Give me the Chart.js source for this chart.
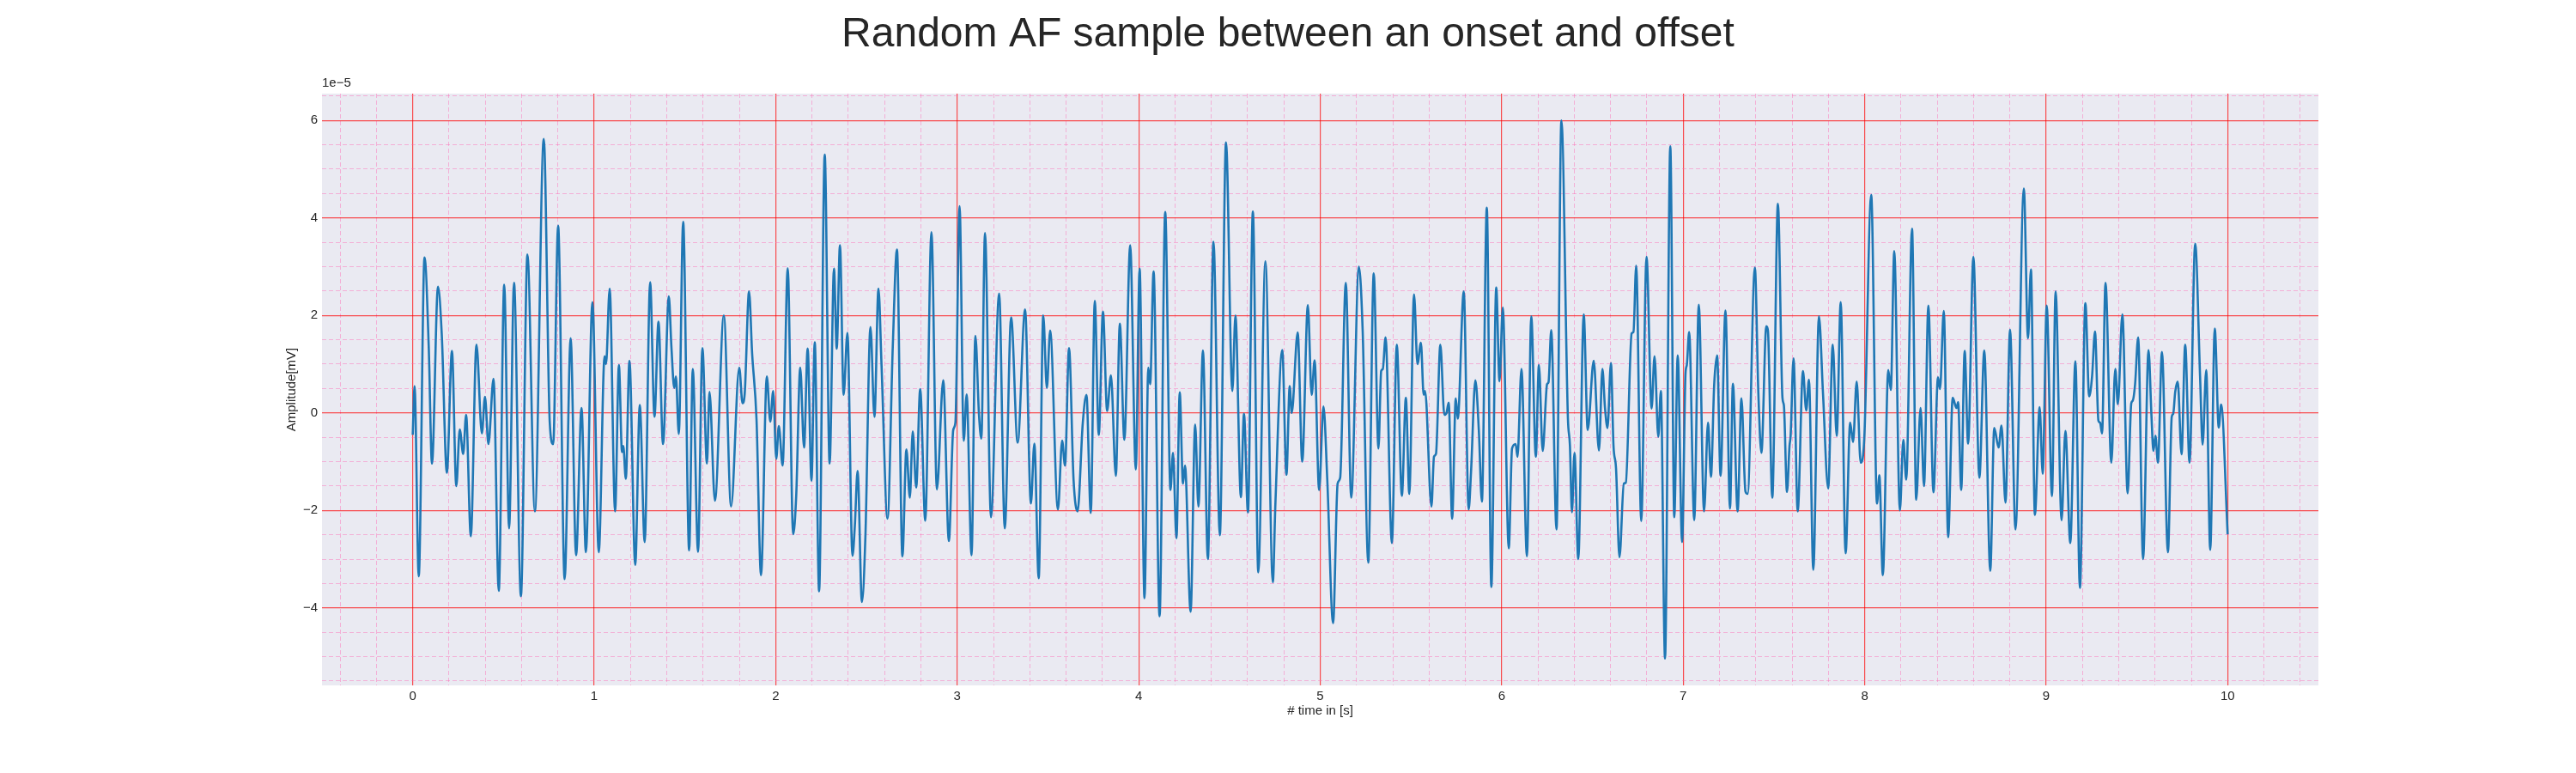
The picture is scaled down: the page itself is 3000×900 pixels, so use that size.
<!DOCTYPE html>
<html>
<head>
<meta charset="utf-8">
<title>Random AF sample between an onset and offset</title>
<script src="https://cdn.jsdelivr.net/npm/chart.js@4.4.1/dist/chart.umd.min.js"></script>
<style>
  html, body { margin: 0; padding: 0; background: #ffffff; }
  #wrap { width: 3000px; height: 900px; }
</style>
</head>
<body>
<div id="wrap"><canvas id="afChart" width="3000" height="900"></canvas></div>
<script>
// --- DATA (amplitude in units of 1e-5 mV) ---
const TITLE = "Random AF sample between an onset and offset";
const X_LABEL = "# time in [s]";
const Y_LABEL = "Amplitude[mV]";
const Y_OFFSET_TEXT = "1e\u22125";

const xTickLabels = [0, 1, 2, 3, 4, 5, 6, 7, 8, 9, 10];
const yTickLabels = [-4, -2, 0, 2, 4, 6];

const timeS = [
  // 0 - 1 s
  0.000,0.010,0.033,0.065,0.088,0.106,0.139,0.160,0.188,0.216,
  0.240,0.259,0.278,0.294,0.320,0.351,0.381,0.398,0.417,0.445,
  0.474,0.504,0.531,0.558,0.596,0.632,0.673,0.722,0.755,0.774,
  0.801,0.837,0.870,0.900,0.930,0.954,0.990,1.025,
  // 1 - 2 s
  1.057,1.065,1.085,1.115,1.136,1.153,1.160,1.174,1.194,1.226,
  1.251,1.278,1.308,1.332,1.354,1.379,1.411,1.425,1.441,1.450,
  1.466,1.490,1.523,1.543,1.572,1.596,1.621,1.635,1.665,1.714,
  1.754,1.799,1.817,1.829,1.853,1.870,1.894,1.919,1.951,1.970,
  1.986,2.003,2.017,2.038,
  // 2 - 3 s
  2.066,2.096,2.113,2.135,2.156,2.176,2.197,2.215,2.239,2.270,
  2.297,2.321,2.336,2.354,2.374,2.395,2.423,2.436,2.451,2.475,
  2.494,2.522,2.544,2.566,2.583,2.616,2.645,2.668,2.698,2.720,
  2.739,2.755,2.774,2.796,2.824,2.858,2.888,2.923,2.954,2.978,
  2.990,3.013,3.036,
  // 3 - 4 s
  3.052,3.079,3.100,3.120,3.133,3.153,3.186,3.231,3.262,3.297,
  3.333,3.374,3.406,3.425,3.449,3.474,3.494,3.512,3.555,3.578,
  3.594,3.616,3.641,3.663,3.692,3.712,3.736,3.758,3.780,3.803,
  3.826,3.847,3.874,3.896,3.921,3.953,3.984,4.005,4.032,
  // 4 - 5 s
  4.053,4.063,4.082,4.115,4.146,4.175,4.189,4.208,4.226,4.244,
  4.255,4.286,4.311,4.329,4.354,4.381,4.412,4.447,4.481,4.516,
  4.533,4.563,4.580,4.602,4.629,4.659,4.698,4.739,4.753,4.791,
  4.814,4.832,4.843,4.876,4.901,4.932,4.953,4.969,4.994,5.018,
  // 5 - 6 s
  5.039,5.071,5.096,5.110,5.141,5.171,5.213,5.234,5.265,5.295,
  5.321,5.336,5.345,5.360,5.395,5.422,5.450,5.472,5.491,5.517,
  5.536,5.555,5.570,5.578,5.613,5.627,5.638,5.662,5.684,5.696,
  5.708,5.727,5.747,5.758,5.791,5.818,5.831,5.855,5.874,5.891,
  5.918,5.943,5.970,5.988,6.006,
  // 6 - 7 s
  6.039,6.057,6.077,6.087,6.109,6.139,6.163,6.188,6.205,6.226,
  6.250,6.258,6.273,6.302,6.329,6.365,6.376,6.387,6.401,6.422,
  6.452,6.474,6.507,6.536,6.555,6.569,6.583,6.602,6.616,6.630,
  6.649,6.673,6.684,6.716,6.726,6.741,6.769,6.798,6.826,6.842,
  6.863,6.877,6.900,6.929,6.951,6.970,6.994,7.013,
  // 7 - 8 s
  7.020,7.033,7.061,7.086,7.115,7.137,7.153,7.171,7.187,7.206,
  7.233,7.258,7.274,7.300,7.321,7.343,7.355,7.395,7.414,7.431,
  7.458,7.467,7.491,7.522,7.547,7.555,7.572,7.586,7.592,7.608,
  7.631,7.660,7.678,7.693,7.717,7.748,7.770,7.799,7.824,7.846,
  7.868,7.895,7.920,7.936,7.956,7.978,7.998,
  // 8 - 9 s
  8.036,8.068,8.081,8.100,8.130,8.144,8.163,8.194,8.213,8.229,
  8.261,8.284,8.308,8.327,8.351,8.379,8.404,8.415,8.436,8.460,
  8.485,8.506,8.515,8.532,8.551,8.570,8.599,8.632,8.659,8.692,
  8.714,8.738,8.754,8.776,8.801,8.831,8.877,8.900,8.916,8.938,
  8.964,8.981,9.003,
  // 9 - 10 s
  9.032,9.052,9.085,9.106,9.133,9.161,9.186,9.216,9.237,9.253,
  9.269,9.288,9.297,9.308,9.327,9.359,9.381,9.395,9.420,9.449,
  9.469,9.477,9.490,9.507,9.534,9.564,9.580,9.591,9.602,9.616,
  9.638,9.671,9.692,9.700,9.711,9.725,9.746,9.766,9.790,9.821,
  9.848,9.862,9.882,9.904,9.929,9.951,9.964,10.000
];

const amplitude = [
  // 0 - 1 s
  -0.45,0.55,-3.35,3.19,1.37,-1.04,2.59,1.60,-1.23,1.27,
  -1.50,-0.34,-0.84,-0.04,-2.53,1.40,-0.42,0.33,-0.64,0.70,
  -3.65,2.63,-2.37,2.67,-3.76,3.25,-2.02,5.62,-0.20,-0.64,
  3.84,-3.41,1.53,-2.92,0.10,-2.86,2.27,-2.86,
  // 1 - 2 s
  1.16,1.00,2.55,-2.02,0.98,-0.80,-0.68,-1.35,1.07,-3.12,
  0.16,-2.65,2.68,-0.08,1.87,-0.64,2.39,1.37,0.51,0.75,
  -0.43,3.92,-2.82,0.90,-2.85,1.33,-1.04,0.43,-1.80,2.00,
  -1.92,0.93,0.20,0.39,2.49,1.22,-0.12,-3.33,0.75,-0.18,
  0.45,-0.94,-0.27,-1.08,
  // 2 - 3 s
  2.97,-2.49,-1.69,0.93,-0.71,1.32,-1.39,1.45,-3.66,5.30,
  -1.04,2.96,1.32,3.44,0.37,1.64,-2.93,-2.31,-1.19,-3.88,
  -2.55,1.76,-0.08,2.55,0.98,-2.17,1.37,3.35,-2.94,-0.75,
  -1.74,-0.38,-1.53,0.49,-2.21,3.71,-1.57,0.67,-2.63,-0.35,
  -0.20,4.24,-0.57,
  // 3 - 4 s
  0.38,-2.92,1.58,-0.04,-0.53,3.69,-2.14,2.45,-2.37,1.96,
  -0.61,2.12,-1.86,-0.63,-3.39,2.00,0.51,1.69,-1.98,-0.57,
  -1.08,1.33,-1.37,-2.02,-0.20,0.37,-2.05,2.30,-0.45,2.08,
  0.04,0.77,-1.29,1.83,-0.55,3.44,-1.16,2.96,-3.80,
  // 4 - 5 s
  0.93,0.59,2.90,-4.17,4.12,-1.58,-0.82,-2.57,0.42,-1.45,
  -1.08,-4.08,-0.24,-1.92,1.28,-3.00,3.51,-2.51,5.55,0.45,
  2.00,-1.73,-0.02,-2.04,4.13,-3.27,3.11,-3.47,-1.88,1.29,
  -1.27,0.55,0.00,1.65,-1.00,2.21,0.37,1.08,-1.58,0.13,
  // 5 - 6 s
  -1.37,-4.31,-1.45,-1.33,2.67,-1.74,3.00,1.69,-3.07,2.86,
  -0.73,0.86,0.90,1.55,-2.67,1.40,-1.70,0.31,-1.66,2.43,
  1.00,1.44,0.37,0.45,-1.92,-0.90,-0.84,1.40,-0.04,0.00,
  0.21,-2.17,0.30,-0.12,2.49,-1.98,-1.22,0.67,-0.35,-1.82,
  4.21,-3.57,2.57,0.65,2.16,
  // 6 - 7 s
  -2.78,-0.73,-0.64,-0.90,0.90,-2.94,1.98,-0.90,0.98,-0.78,
  0.59,0.63,1.70,-2.39,6.00,-0.12,-0.67,-2.04,-0.82,-3.00,
  2.02,-0.35,1.07,-0.77,0.90,0.11,-0.31,1.02,-0.67,-1.14,
  -2.96,-1.45,-1.43,1.63,1.66,3.02,-2.22,3.20,0.09,1.16,
  -0.49,0.45,-5.04,5.47,-2.14,1.18,-2.65,0.82,
  // 7 - 8 s
  0.98,1.66,-2.20,2.22,-2.02,-0.20,-1.31,0.59,1.18,-1.29,
  2.10,-1.96,0.60,-2.02,0.30,-1.61,-1.66,2.98,0.43,-0.82,
  1.78,1.69,-1.74,4.29,0.31,0.15,-1.62,-0.67,-0.47,1.12,
  -2.02,0.86,0.05,0.68,-3.22,1.98,0.43,-1.55,1.40,-0.47,
  2.27,-2.88,-0.20,-0.60,0.64,-1.02,-0.51,
  // 8 - 9 s
  4.47,-1.86,-1.28,-3.33,0.88,0.47,3.32,-2.00,-0.55,-1.37,
  3.78,-1.78,0.10,-1.50,2.20,-1.63,0.73,0.49,2.09,-2.55,
  0.31,0.10,0.22,-1.58,1.27,-0.63,3.20,-1.33,1.28,-3.24,
  -0.31,-0.71,-0.26,-1.84,1.71,-2.39,4.60,1.53,2.94,-2.09,
  0.12,-1.25,2.20,
  // 9 - 10 s
  -1.71,2.49,-2.20,-0.37,-2.67,1.06,-3.59,2.25,0.34,0.75,
  1.67,-0.16,-0.20,-0.42,2.67,-1.02,0.90,0.18,2.02,-1.65,
  0.20,0.25,0.59,1.55,-3.00,1.29,-0.04,-0.78,-0.47,-1.02,
  1.25,-2.86,-0.08,-0.02,0.43,0.64,-0.85,1.40,-1.02,3.47,
  0.75,-0.65,0.88,-2.81,1.73,-0.30,0.17,-2.49
];

// --- AXES LIMITS / GRID STEPS ---
const X_MIN = -0.5, X_MAX = 10.5, X_MINOR = 0.2;
const Y_MIN = -5.59, Y_MAX = 6.55, Y_MINOR = 0.5;

// --- STYLE ---
const FONT = "'Liberation Sans', Arial, 'DejaVu Sans', sans-serif";
const TEXT_COLOR = '#262626';
const PLOT_BG = '#eaeaf2';
const MAJOR_GRID = 'rgba(255, 0, 0, 0.68)';
const MINOR_GRID = 'rgba(255, 105, 180, 0.45)';
const LINE_COLOR = '#1f77b4';

// valeurs des lignes de grille (majeures + mineures) entre deux bornes
function gridValues(min, max, step) {
    const out = [];
    const first = Math.ceil(min / step - 1e-9);
    const last = Math.floor(max / step + 1e-9);
    for (let i = first; i <= last; i++) out.push(Math.round(i * step * 1000) / 1000);
    return out;
}

const isIn = (v, list) => list.some(t => Math.abs(t - v) < 1e-6);
const minus = v => (v < 0 ? '\u2212' + Math.abs(v) : String(v));

const points = timeS.map((t, i) => ({ x: t, y: amplitude[i] }));

// fond gris-lavande de la zone de tracé
const plotBackground = {
    id: 'plotBackground',
    beforeDraw(chart) {
        const { ctx, chartArea: a } = chart;
        ctx.save();
        ctx.fillStyle = '#ffffff';
        ctx.fillRect(0, 0, chart.width, chart.height);
        ctx.fillStyle = PLOT_BG;
        ctx.fillRect(a.left, a.top, a.right - a.left, a.bottom - a.top);
        ctx.restore();
    }
};

// texte "1e-5" en haut à gauche de l'axe Y
const offsetText = {
    id: 'offsetText',
    afterDraw(chart) {
        const { ctx, chartArea: a } = chart;
        ctx.save();
        ctx.font = '15px ' + FONT;
        ctx.fillStyle = TEXT_COLOR;
        ctx.textAlign = 'left';
        ctx.textBaseline = 'bottom';
        ctx.fillText(Y_OFFSET_TEXT, a.left, a.top - 5);
        ctx.restore();
    }
};

const ctx = document.getElementById('afChart').getContext('2d');

window.myChart = new Chart(ctx, {
    type: 'line',
    data: {
        datasets: [{
            data: points,
            borderColor: LINE_COLOR,
            borderWidth: 2.6,
            pointRadius: 0,
            fill: false,
            cubicInterpolationMode: 'monotone'
        }]
    },
    options: {
        responsive: false,
        animation: false,
        devicePixelRatio: 1,
        layout: { padding: 0 },
        plugins: {
            legend: { display: false },
            tooltip: { enabled: false },
            title: {
                display: true,
                text: TITLE,
                color: TEXT_COLOR,
                font: { family: FONT, size: 48, weight: 'normal', lineHeight: 1.2 },
                padding: { top: 12, bottom: 39.4 }
            }
        },
        scales: {
            x: {
                type: 'linear',
                min: X_MIN,
                max: X_MAX,
                afterFit: s => { s.height = 102; },
                afterBuildTicks: s => { s.ticks = gridValues(X_MIN, X_MAX, X_MINOR).map(v => ({ value: v })); },
                ticks: {
                    autoSkip: false,
                    maxRotation: 0,
                    padding: 4,
                    color: TEXT_COLOR,
                    font: { family: FONT, size: 15 },
                    callback: v => (isIn(v, xTickLabels) ? String(Math.round(v)) : '')
                },
                grid: {
                    drawTicks: false,
                    lineWidth: c => (c.tick && isIn(c.tick.value, xTickLabels) ? 1.2 : 1),
                    color: c => (c.tick && isIn(c.tick.value, xTickLabels) ? MAJOR_GRID : MINOR_GRID)
                },
                border: {
                    display: false,
                    dash: c => (c.tick && !isIn(c.tick.value, xTickLabels) ? [5, 3] : [])
                },
                title: {
                    display: true,
                    text: X_LABEL,
                    color: TEXT_COLOR,
                    font: { family: FONT, size: 15, lineHeight: 1.2 },
                    padding: { top: 4, bottom: 63 }
                }
            },
            y: {
                type: 'linear',
                min: Y_MIN,
                max: Y_MAX,
                afterFit: s => { s.width = 375; },
                afterBuildTicks: s => { s.ticks = gridValues(Y_MIN, Y_MAX, Y_MINOR).map(v => ({ value: v })); },
                ticks: {
                    autoSkip: false,
                    padding: 5,
                    color: TEXT_COLOR,
                    font: { family: FONT, size: 15 },
                    callback: v => (isIn(v, yTickLabels) ? minus(Math.round(v)) : '')
                },
                grid: {
                    drawTicks: false,
                    lineWidth: c => (c.tick && isIn(c.tick.value, yTickLabels) ? 1.2 : 1),
                    color: c => (c.tick && isIn(c.tick.value, yTickLabels) ? MAJOR_GRID : MINOR_GRID)
                },
                border: {
                    display: false,
                    dash: c => (c.tick && !isIn(c.tick.value, yTickLabels) ? [5, 3] : [])
                },
                title: {
                    display: true,
                    text: Y_LABEL,
                    color: TEXT_COLOR,
                    font: { family: FONT, size: 15, lineHeight: 1.2 },
                    padding: { top: 331, bottom: 4 }
                }
            },
            // axe vide à droite : réserve la marge blanche pour que le titre reste centré sur la figure
            yRight: {
                type: 'linear',
                position: 'right',
                display: true,
                min: Y_MIN,
                max: Y_MAX,
                afterFit: s => { s.width = 300; },
                ticks: { display: false },
                grid: { display: false, drawOnChartArea: false },
                border: { display: false }
            }
        }
    },
    plugins: [plotBackground, offsetText]
});
</script>
</body>
</html>
